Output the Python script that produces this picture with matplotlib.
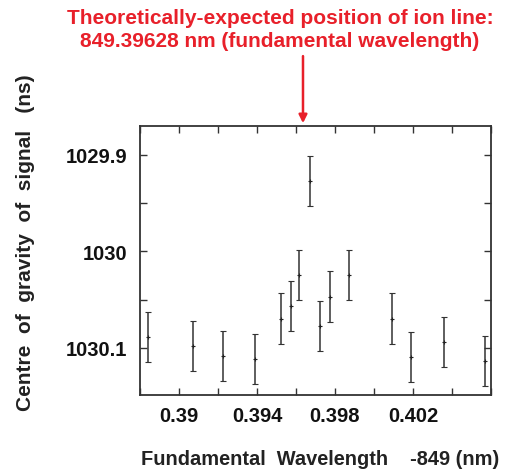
# -*- coding: utf-8 -*-
import matplotlib
matplotlib.use('Agg')
import matplotlib.pyplot as plt
from matplotlib.ticker import MultipleLocator

plt.rcParams['font.family'] = ['Liberation Sans', 'DejaVu Sans']
plt.rcParams['font.weight'] = 'bold'

# 数据：基波波长 -849 (nm)，信号重心 (ns)
wavelength = [0.38840, 0.39070, 0.39224, 0.39388, 0.39523, 0.39573, 0.39615,
              0.39672, 0.39722, 0.39773, 0.39872, 0.40091, 0.40191, 0.40359,
              0.40568]
centre = [1030.0885, 1030.0984, 1030.1085, 1030.1120, 1030.0697, 1030.0568,
          1030.0243, 1029.9268, 1030.0770, 1030.0469, 1030.0243, 1030.0697,
          1030.1096, 1030.0937, 1030.1135]
err = [0.026] * len(wavelength)

x_ticks = [0.39, 0.394, 0.398, 0.402]
x_ticklabels = ['0.39', '0.394', '0.398', '0.402']
y_ticks = [1029.9, 1030.0, 1030.1]
y_ticklabels = ['1029.9', '1030', '1030.1']
ion_line = 0.39636

fig = plt.figure(figsize=(5.29, 4.77), dpi=100)
ax = fig.add_axes([0.2647, 0.1698, 0.6633, 0.5640])

ax.errorbar(wavelength, centre, yerr=err, fmt='+', color='#222222',
            ecolor='#333333', elinewidth=1.1, capsize=2.2, capthick=1.0,
            markersize=3, markeredgewidth=0.8)

ax.set_xlim(0.388, 0.406)
ax.set_ylim(1030.149, 1029.87)
ax.set_xticks(x_ticks)
ax.set_xticklabels(x_ticklabels)
ax.set_yticks(y_ticks)
ax.set_yticklabels(y_ticklabels)
ax.xaxis.set_minor_locator(MultipleLocator(0.002))
ax.yaxis.set_minor_locator(MultipleLocator(0.05))
ax.tick_params(which='both', direction='in', top=True, right=True,
               labelsize=14.5, width=1.0, color='#333333', labelcolor='#111111')
ax.tick_params(which='major', length=5)
ax.tick_params(axis='x', which='major', pad=8)
ax.tick_params(axis='y', which='major', pad=9)
ax.tick_params(which='minor', length=5)
for s in ax.spines.values():
    s.set_linewidth(1.3)
    s.set_color('#333333')

ax.set_xlabel('Fundamental  Wavelength    -849 (nm)', fontsize=14.4,
              fontweight='bold', color='#222222')
ax.xaxis.set_label_coords(0.513, -0.2)
ax.set_ylabel('Centre  of  gravity  of  signal   (ns)', fontsize=15,
              fontweight='bold', color='#222222')
ax.yaxis.set_label_coords(-0.30, 0.571)

# 理论位置标注（红色箭头 + 文字）
ax.annotate('', xy=(ion_line, 1029.87), xycoords=('data', 'data'),
            xytext=(ion_line, 1.27), textcoords=('data', 'axes fraction'),
            arrowprops=dict(arrowstyle='-|>', color='#e8202a', lw=1.8,
                            mutation_scale=12))
fig.text(0.529, 0.937, 'Theoretically-expected position of ion line:\n'
         '849.39628 nm (fundamental wavelength)', ha='center', va='center',
         color='#e8202a', fontsize=15, fontweight='bold', linespacing=1.3)

fig.savefig('out.png', dpi=100, facecolor='white')
